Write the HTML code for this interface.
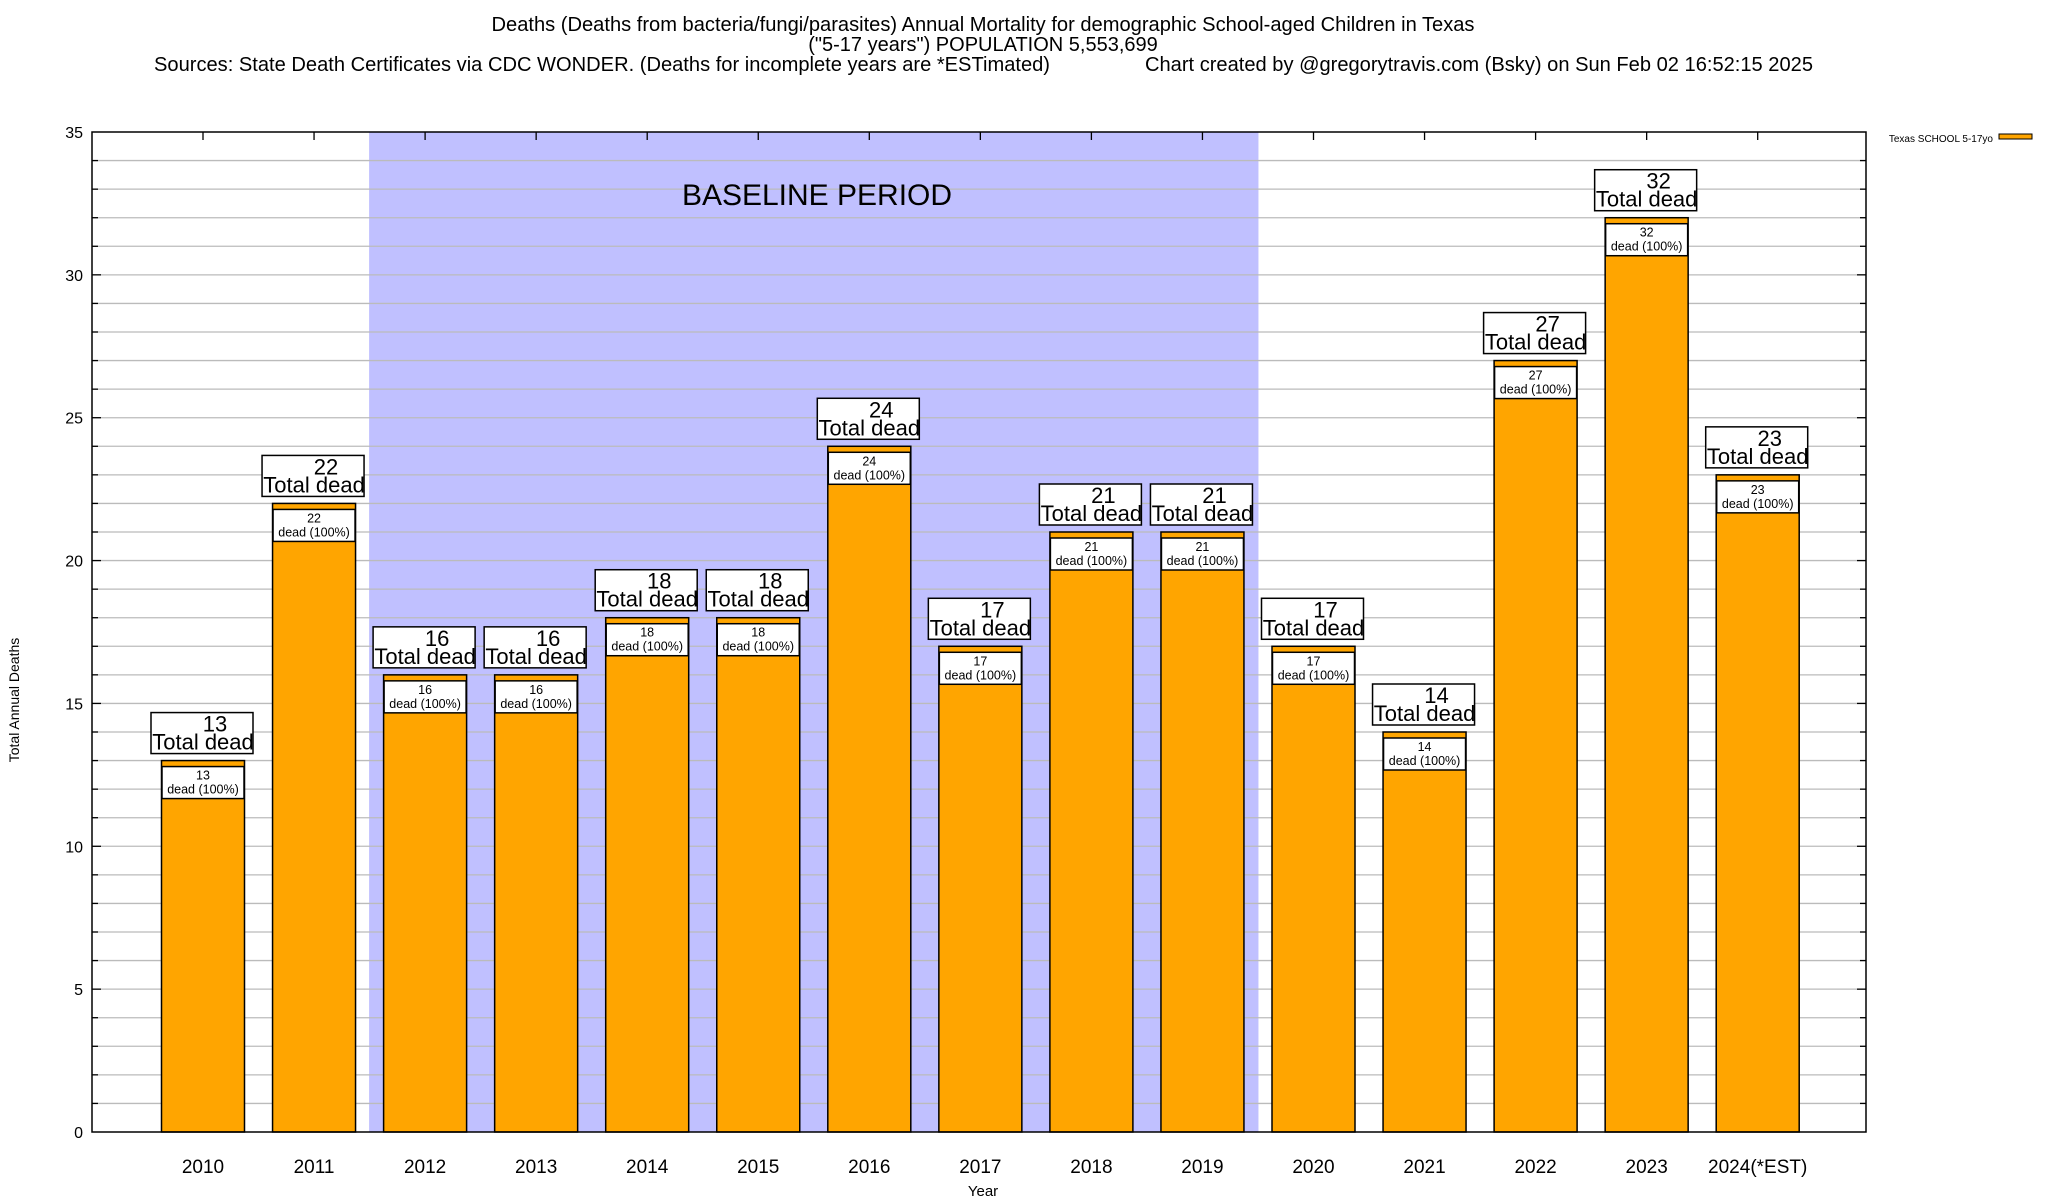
<!DOCTYPE html>
<html><head><meta charset="utf-8"><style>
body{margin:0;background:#fff;width:2048px;height:1200px;overflow:hidden}
svg{display:block;font-family:"Liberation Sans",sans-serif}
</style></head><body>
<svg id="c" width="2048" height="1200">
<g font-size="20">
<text x="983" y="31" text-anchor="middle" textLength="983" lengthAdjust="spacingAndGlyphs">Deaths (Deaths from bacteria/fungi/parasites) Annual Mortality for demographic School-aged Children in Texas</text>
<text x="983" y="51" text-anchor="middle">("5-17 years") POPULATION 5,553,699</text>
<text x="154" y="71" textLength="896" lengthAdjust="spacingAndGlyphs">Sources: State Death Certificates via CDC WONDER. (Deaths for incomplete years are *ESTimated)</text>
<text x="1145" y="71" textLength="668" lengthAdjust="spacingAndGlyphs">Chart created by @gregorytravis.com (Bsky) on Sun Feb 02 16:52:15 2025</text>
</g>
<g id="plot"></g>
</svg>
<script>
const categories=["2010","2011","2012","2013","2014","2015","2016","2017","2018","2019","2020","2021","2022","2023","2024(*EST)"];
const values=[13,22,16,16,18,18,24,17,21,21,17,14,27,32,23];
const yTicks=[0,5,10,15,20,25,30,35];
const baselineRange=[2,9];
const L=92,R=1866,T=132,B=1132,YMAX=35;
function y(v){return B-(v/YMAX)*(B-T);}
function x(i){return 203+i*111.05;}
const BW=83;
const g=document.getElementById('plot');
const NS='http://www.w3.org/2000/svg';
function mk(t,a,p){const e=document.createElementNS(NS,t);for(const k in a)e.setAttribute(k,a[k]);(p||g).appendChild(e);return e;}
const shade=mk('rect',{x:x(baselineRange[0])-56,y:T,width:x(baselineRange[1])-x(baselineRange[0])+112,height:B-T,fill:'#c0c0ff'});


for(let v=1;v<YMAX;v++){
 const gl=mk('line',{x1:L,x2:R,y1:y(v),y2:y(v),stroke:'#bbb','stroke-width':1.3});
 
 
 const tl=v%5==0?9:6;
 mk('line',{x1:L,x2:L+tl,y1:y(v),y2:y(v),stroke:'#000','stroke-width':1.3});
 mk('line',{x1:R,x2:R-tl,y1:y(v),y2:y(v),stroke:'#000','stroke-width':1.3});
}
yTicks.forEach(v=>{
 const t=mk('text',{x:83,y:y(v)+6,'text-anchor':'end','font-size':16});
 t.textContent=v;
 
 
});
const bt=mk('text',{x:817,y:205,'text-anchor':'middle','font-size':30});
bt.textContent='BASELINE PERIOD';


categories.forEach((c,i)=>{
 const cx=x(i),v=values[i],top=y(v);
 const bar=mk('rect',{x:cx-BW/2,y:top,width:BW,height:B-top,fill:'#ffa500',stroke:'#000','stroke-width':1.5});
 
 
 mk('line',{x1:cx,x2:cx,y1:T,y2:T+8,stroke:'#000','stroke-width':1.3});
 const ib=mk('rect',{x:cx-41,y:top+6,width:82,height:32,fill:'#fff',stroke:'#000','stroke-width':1.5});
 
 
 const t1=mk('text',{x:cx,y:top+19,'text-anchor':'middle','font-size':12.5});t1.textContent=v;
 
 
 const t2=mk('text',{x:cx,y:top+33,'text-anchor':'middle','font-size':12.5});t2.textContent='dead (100%)';
 
 
 const ob=mk('rect',{x:cx-52,y:top-48,width:102,height:41,fill:'#fff',stroke:'#000','stroke-width':1.5});
 
 
 const t3=mk('text',{x:cx+12,y:top-29,'text-anchor':'middle','font-size':22});t3.textContent=v;
 
 
 const t4=mk('text',{x:cx,y:top-11,'text-anchor':'middle','font-size':22});t4.textContent='Total dead';
 
 
 const xl=mk('text',{x:cx,y:1173,'text-anchor':'middle','font-size':19});xl.textContent=c;
 
 
});
const fr=mk('rect',{x:L,y:T,width:R-L,height:B-T,fill:'none',stroke:'#000','stroke-width':1.5});


const yt=mk('text',{x:0,y:0,'text-anchor':'middle','font-size':14,transform:'translate(19,700) rotate(-90)'});
yt.textContent='Total Annual Deaths';


const xt=mk('text',{x:983,y:1196,'text-anchor':'middle','font-size':15});
xt.textContent='Year';


const lt=mk('text',{x:1993,y:142,'text-anchor':'end','font-size':10});
lt.textContent='Texas SCHOOL 5-17yo';


const ls=mk('rect',{x:1999,y:134,width:33,height:5,fill:'#ffa500',stroke:'#000','stroke-width':1});


</script>
</body></html>
